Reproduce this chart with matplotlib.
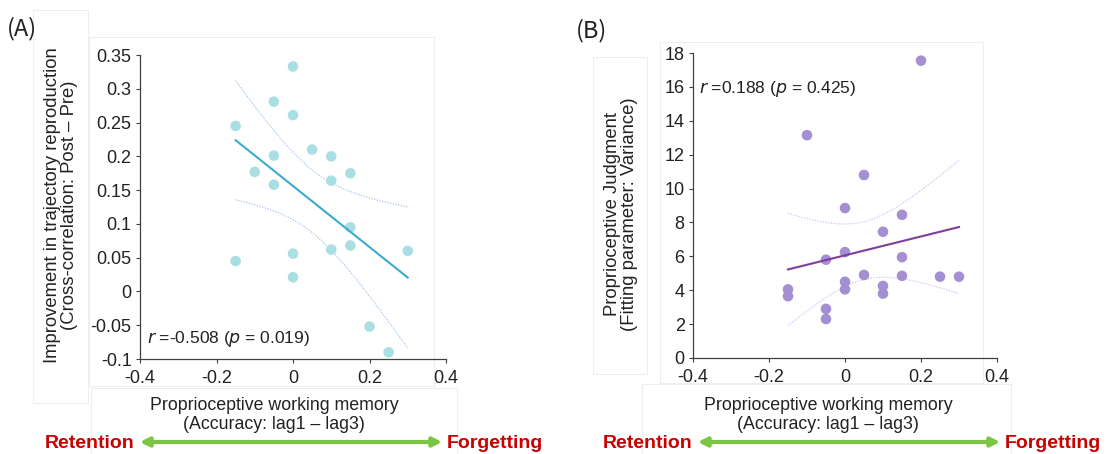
import numpy as np
import matplotlib
matplotlib.use('Agg')
import matplotlib.pyplot as plt
from matplotlib.patches import Rectangle, FancyArrowPatch

W, H = 1107, 454

# panel A: working memory vs improvement in trajectory reproduction
a_x = [-0.15, -0.15, -0.1, -0.05, -0.05, -0.05, 0, 0, 0, 0,
       0.05, 0.1, 0.1, 0.1, 0.15, 0.15, 0.15, 0.2, 0.25, 0.3]
a_y = [0.245, 0.045, 0.177, 0.281, 0.201, 0.158, 0.333, 0.261, 0.056, 0.021,
       0.21, 0.2, 0.164, 0.062, 0.175, 0.095, 0.068, -0.052, -0.09, 0.06]

# panel B: working memory vs proprioceptive judgment variance
b_x = [-0.15, -0.15, -0.1, -0.05, -0.05, -0.05, 0, 0, 0, 0, 0.05,
       0.05, 0.1, 0.1, 0.1, 0.15, 0.15, 0.15, 0.2, 0.25, 0.3]
b_y = [4.05, 3.65, 13.15, 5.8, 2.9, 2.3, 8.85, 6.25, 4.5, 4.05, 10.8,
       4.9, 7.45, 4.25, 3.8, 8.45, 5.95, 4.85, 17.55, 4.8, 4.8]

x_ticks = [-0.4, -0.2, 0, 0.2, 0.4]
x_tick_labels = ['-0.4', '-0.2', '0', '0.2', '0.4']
a_ticks = [-0.1, -0.05, 0, 0.05, 0.1, 0.15, 0.2, 0.25, 0.3, 0.35]
a_tick_labels = ['-0.1', '-0.05', '0', '0.05', '0.1', '0.15', '0.2', '0.25', '0.3', '0.35']
b_ticks = [0, 2, 4, 6, 8, 10, 12, 14, 16, 18]

plt.rcParams['font.family'] = ['Liberation Sans', 'DejaVu Sans']
CJK = ['Noto Sans CJK JP', 'DejaVu Sans']


def fx(px):
    return px / W


def fy(py):
    return 1 - py / H


def frame(fig, x0, y0, x1, y1):
    fig.add_artist(Rectangle((fx(x0), fy(y1)), fx(x1) - fx(x0), fy(y0) - fy(y1),
                             transform=fig.transFigure, fill=False,
                             edgecolor='#eeeeee', lw=0.8, zorder=0))


def fit_band(x, y, xs):
    x = np.asarray(x, float)
    y = np.asarray(y, float)
    n = len(x)
    slope, icpt = np.polyfit(x, y, 1)
    resid = y - (slope * x + icpt)
    s = np.sqrt(np.sum(resid ** 2) / (n - 2))
    sxx = np.sum((x - x.mean()) ** 2)
    t = 2.1
    half = t * s * np.sqrt(1 / n + (xs - x.mean()) ** 2 / sxx)
    fit = slope * xs + icpt
    return fit, fit - half, fit + half


def scatter_panel(ax, x, y, pt_color, line_color, band_color, yticks, ylabels, ylim):
    xs = np.linspace(min(x), max(x), 100)
    fit, lo, hi = fit_band(x, y, xs)
    ax.scatter(x, y, s=58, color=pt_color, edgecolors='none', zorder=3)
    ax.plot(xs, fit, color=line_color, lw=1.5, zorder=4)
    ax.plot(xs, lo, color=band_color, lw=0.9, ls=(0, (1, 1.2)), zorder=2)
    ax.plot(xs, hi, color=band_color, lw=0.9, ls=(0, (1, 1.2)), zorder=2)
    ax.set_xlim(-0.4, 0.4)
    ax.set_ylim(*ylim)
    ax.set_xticks(x_ticks)
    ax.set_xticklabels(x_tick_labels)
    ax.set_yticks(yticks)
    ax.set_yticklabels(ylabels)
    ax.patch.set_alpha(0)
    for side in ['top', 'right']:
        ax.spines[side].set_visible(False)
    for side in ['left', 'bottom']:
        ax.spines[side].set_color('#404040')
        ax.spines[side].set_linewidth(0.9)
    ax.tick_params(direction='out', length=3, width=0.8, color='#404040',
                   labelsize=13, labelcolor='#222222', pad=3)
    ax.tick_params(axis='x', pad=5)


def retention_arrow(fig, x_text_l, x0, x1, x_text_r, y):
    fig.add_artist(FancyArrowPatch((fx(x0), fy(y)), (fx(x1), fy(y)),
                                   transform=fig.transFigure, arrowstyle='<|-|>',
                                   mutation_scale=13, color='#7cc444', lw=3))
    fig.text(fx(x_text_l), fy(y + 1), 'Retention', ha='right', va='center',
             color='#c80000', fontsize=14, fontweight='bold')
    fig.text(fx(x_text_r), fy(y + 1), 'Forgetting', ha='left', va='center',
             color='#c80000', fontsize=14, fontweight='bold')


fig = plt.figure(figsize=(W / 100, H / 100), dpi=100)

# faint frames of the pasted text boxes
frame(fig, 33, 10, 88, 403)
frame(fig, 89, 37, 434, 386)
frame(fig, 91, 388, 457, 460)
frame(fig, 593, 57, 647, 374)
frame(fig, 660, 42, 983, 383)
frame(fig, 642, 384, 1011, 460)

ax_a = fig.add_axes([fx(140), fy(359), fx(446) - fx(140), fy(55) - fy(359)])
scatter_panel(ax_a, a_x, a_y, '#a9dfe3', '#3aaccb', '#a8c6ee',
              a_ticks, a_tick_labels, (-0.1, 0.35))
ax_a.text(-0.383, -0.071, '$r$ =-0.508 ($p$ = 0.019)',
          fontsize=12.5, color='#222222', va='center')

ax_b = fig.add_axes([fx(693), fy(358), fx(997) - fx(693), fy(53) - fy(358)])
scatter_panel(ax_b, b_x, b_y, '#a48fd2', '#7d3f99', '#d8bff0',
              b_ticks, [str(t) for t in b_ticks], (0, 18))
ax_b.text(-0.383, 15.9, '$r$ =0.188 ($p$ = 0.425)',
          fontsize=12.5, color='#222222', va='center')

fig.text(fx(61), fy(205), 'Improvement in trajectory reproduction\n(Cross-correlation: Post \u2013 Pre)',
         rotation=90, ha='center', va='center', fontsize=13.3, color='#222222',
         linespacing=1.05)
fig.text(fx(621), fy(214), 'Proprioceptive Judgment\n(Fitting parameter: Variance)',
         rotation=90, ha='center', va='center', fontsize=13.3, color='#222222',
         linespacing=1.05)

for cx in [274, 828]:
    fig.text(fx(cx), fy(415), 'Proprioceptive working memory\n(Accuracy: lag1 \u2013 lag3)',
             ha='center', va='center', fontsize=12.8, color='#222222', linespacing=1.15)

fig.text(fx(7), fy(29), '(A)', fontsize=17, family=CJK, va='center', ha='left', color='#222222')
fig.text(fx(576), fy(31), '(B)', fontsize=17, family=CJK, va='center', ha='left', color='#222222')

retention_arrow(fig, 134, 137, 445, 447, 442)
retention_arrow(fig, 692, 695, 1003, 1005, 442)

fig.savefig('out.png', dpi=100, facecolor='white')
